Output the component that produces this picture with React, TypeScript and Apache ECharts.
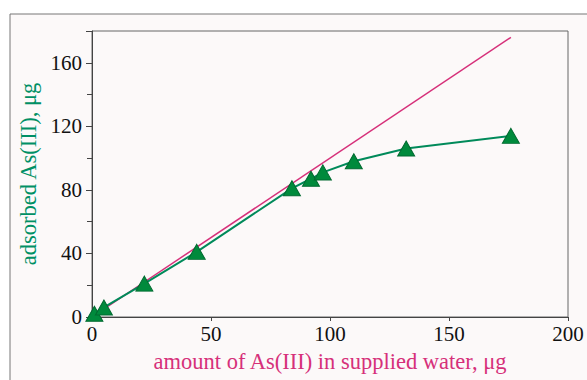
import React, { useEffect, useRef } from "react";
import * as echarts from "echarts";

const suppliedX: number[] = [1, 5, 22, 44, 84, 92, 97, 110, 132, 176];
const adsorbedY: number[] = [2, 6, 21, 41, 81, 87, 91, 98, 106, 114];
const refLineX: number[] = [0, 176];
const refLineY: number[] = [0, 176];

const xTitle = "amount of As(III) in supplied water, μg";
const yTitle = "adsorbed As(III), μg";

export default function App() {
  const ref = useRef<HTMLDivElement>(null);
  useEffect(() => {
    if (!ref.current) return;
    const chart = echarts.init(ref.current, undefined, { renderer: "svg" });
    const font = "'Liberation Serif', 'DejaVu Serif', serif";
    chart.setOption({
      animation: false,
      backgroundColor: "#ffffff",
      graphic: [
        {
          type: "rect",
          shape: { x: 10, y: 14, width: 620, height: 420 },
          style: { fill: "#fcf9f9", stroke: "#777777", lineWidth: 1 },
          z: -10,
          silent: true,
        },
      ],
      grid: {
        left: 92,
        top: 31,
        right: 19,
        bottom: 63,
        show: true,
        borderColor: "#666666",
        borderWidth: 1,
        backgroundColor: "transparent",
      },
      xAxis: {
        type: "value",
        min: 0,
        max: 200,
        interval: 50,
        name: xTitle,
        nameLocation: "middle",
        nameGap: 33,
        nameTextStyle: { color: "#d6307a", fontFamily: font, fontSize: 22.5 },
        axisLine: { show: true, lineStyle: { color: "#444444", width: 1 } },
        axisTick: { show: true, length: 4, lineStyle: { color: "#444444" } },
        axisLabel: { color: "#111111", fontFamily: font, fontSize: 21, margin: 6 },
        splitLine: { show: false },
      },
      yAxis: {
        type: "value",
        min: 0,
        max: 180,
        interval: 40,
        name: yTitle,
        nameLocation: "middle",
        nameGap: 48,
        nameTextStyle: { color: "#009065", fontFamily: font, fontSize: 22.5 },
        axisLine: { show: true, lineStyle: { color: "#444444", width: 1 } },
        axisTick: { show: true, length: 6, lineStyle: { color: "#444444" } },
        minorTick: { show: true, splitNumber: 2, length: 5, lineStyle: { color: "#444444" } },
        axisLabel: {
          color: "#111111",
          fontFamily: font,
          fontSize: 21,
          margin: 10,
          showMaxLabel: false,
        },
        splitLine: { show: false },
      },
      series: [
        {
          type: "line",
          data: refLineX.map((x, i) => [x, refLineY[i]]),
          showSymbol: false,
          symbol: "none",
          lineStyle: { color: "#d6307a", width: 1.5 },
          z: 2,
        },
        {
          type: "line",
          data: suppliedX.map((x, i) => [x, adsorbedY[i]]),
          symbol: "triangle",
          symbolSize: [17, 15],
          itemStyle: { color: "#008a3c", borderColor: "#006a30", borderWidth: 1 },
          lineStyle: { color: "#008a5a", width: 2 },
          clip: false,
          z: 3,
        },
      ],
    });
    return () => chart.dispose();
  }, []);
  return (
    <div
      ref={ref}
      style={{ position: "absolute", left: 0, top: 0, width: 587, height: 380 }}
    />
  );
}
